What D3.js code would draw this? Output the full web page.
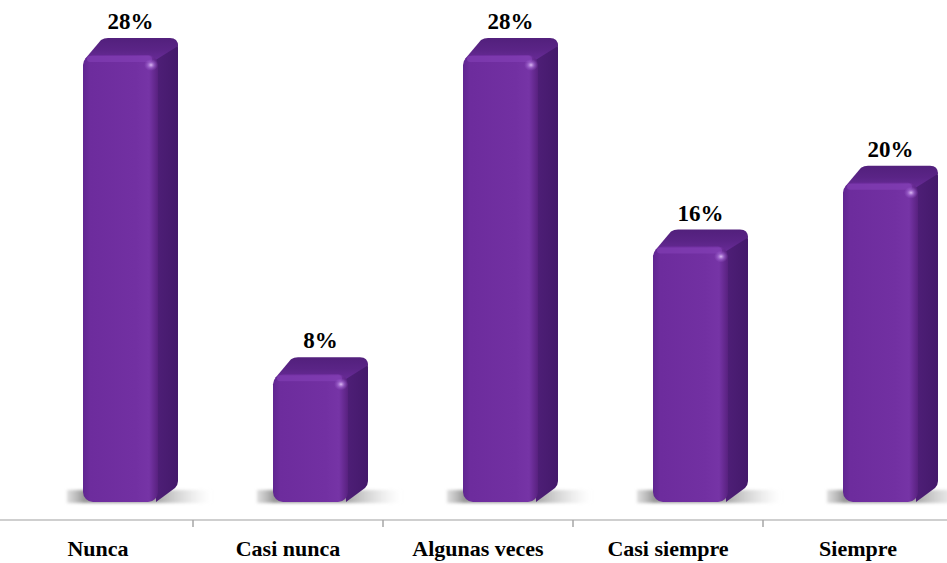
<!DOCTYPE html>
<html><head><meta charset="utf-8">
<script src="https://cdn.jsdelivr.net/npm/d3@7"></script>
<style>html,body{margin:0;padding:0;background:#fff;}svg{display:block;}</style>
</head><body>
<svg id="c" width="947" height="563"></svg>
<script>
const categories = ["Nunca", "Casi nunca", "Algunas veces", "Casi siempre", "Siempre"];
const values = [28, 8, 28, 16, 20];
const valueLabels = ["28%", "8%", "28%", "16%", "20%"];

const svg = d3.select("#c");
const W = 947, H = 563;
const x = d3.scaleBand().domain(categories).range([3, 953]).padding(0);
const y = d3.scaleLinear().domain([0, 28]).range([502, 55]);
const faceOff = 80, faceW = 75, dx = 20, dy = 17;
const serif = "'Liberation Serif', 'Times New Roman', serif";

const defs = svg.append("defs");
const fg = defs.append("linearGradient").attr("id", "front").attr("x1", 0).attr("x2", 1).attr("y1", 0).attr("y2", 0);
fg.append("stop").attr("offset", 0).attr("stop-color", "#5f2590");
fg.append("stop").attr("offset", 0.1).attr("stop-color", "#6d2c9d");
fg.append("stop").attr("offset", 0.7).attr("stop-color", "#7230a2");
fg.append("stop").attr("offset", 0.88).attr("stop-color", "#7634a6");
fg.append("stop").attr("offset", 1).attr("stop-color", "#58217f");
const sg = defs.append("linearGradient").attr("id", "side").attr("x1", 0).attr("x2", 1).attr("y1", 0).attr("y2", 0);
sg.append("stop").attr("offset", 0).attr("stop-color", "#4f1f78");
sg.append("stop").attr("offset", 1).attr("stop-color", "#44196b");
const tg = defs.append("linearGradient").attr("id", "top").attr("x1", 0).attr("x2", 0).attr("y1", 1).attr("y2", 0);
tg.append("stop").attr("offset", 0).attr("stop-color", "#6a2c99");
tg.append("stop").attr("offset", 0.5).attr("stop-color", "#5a2486");
tg.append("stop").attr("offset", 1).attr("stop-color", "#52207c");
const hg = defs.append("radialGradient").attr("id", "hl");
hg.append("stop").attr("offset", 0).attr("stop-color", "#e8ccff").attr("stop-opacity", 0.9);
hg.append("stop").attr("offset", 0.5).attr("stop-color", "#b27ae0").attr("stop-opacity", 0.5);
hg.append("stop").attr("offset", 1).attr("stop-color", "#a060d0").attr("stop-opacity", 0);
const shg = defs.append("linearGradient").attr("id", "shad").attr("x1", 0).attr("x2", 1).attr("y1", 0).attr("y2", 0);
shg.append("stop").attr("offset", 0).attr("stop-color", "#c8c8c8").attr("stop-opacity", 0.6);
shg.append("stop").attr("offset", 0.12).attr("stop-color", "#8a8a8a").attr("stop-opacity", 0.9);
shg.append("stop").attr("offset", 0.6).attr("stop-color", "#8a8a8a").attr("stop-opacity", 0.8);
shg.append("stop").attr("offset", 0.8).attr("stop-color", "#bdbdbd").attr("stop-opacity", 0.5);
shg.append("stop").attr("offset", 1).attr("stop-color", "#e0e0e0").attr("stop-opacity", 0);
defs.append("filter").attr("id", "blur").attr("x", -0.2).attr("y", -1).attr("width", 1.4).attr("height", 3)
  .append("feGaussianBlur").attr("stdDeviation", 1.6);

// axis
const axisY = 520;
svg.append("line").attr("x1", 0).attr("x2", W).attr("y1", axisY).attr("y2", axisY)
  .attr("stroke", "#bfbfbf").attr("stroke-width", 1.5);
categories.forEach((c, i) => {
  if (i === 0) return;
  const tx = Math.round(x(c));
  svg.append("line").attr("x1", tx).attr("x2", tx).attr("y1", axisY).attr("y2", axisY + 7)
    .attr("stroke", "#a6a6a6").attr("stroke-width", 1.5);
});

const g = svg.append("g");
categories.forEach((c, i) => {
  const x0 = x(c) + faceOff, x1 = x0 + faceW;
  const top = y(values[i]), bot = y(0);
  const bg = g.append("g");
  // floor shadow
  bg.append("rect").attr("x", x0 - 16).attr("y", bot - 12).attr("width", faceW + dx + 50).attr("height", 13)
    .attr("fill", "url(#shad)").attr("filter", "url(#blur)");
  // side
  bg.append("path")
    .attr("d", `M${x1 - 4},${top + 2} L${x1 + dx - 2},${top - dy + 4} Q${x1 + dx},${top - dy + 6} ${x1 + dx},${top - dy + 10} L${x1 + dx},${bot - dy - 4} Q${x1 + dx},${bot - dy} ${x1 + dx - 3},${bot - dy + 3} L${x1 - 2},${bot} Z`)
    .attr("fill", "url(#side)");
  // top
  bg.append("path")
    .attr("d", `M${x0 + 2},${top + 4} L${x0 + dx - 2},${top - dy + 2} Q${x0 + dx + 1},${top - dy} ${x0 + dx + 5},${top - dy} L${x1 + dx - 8},${top - dy} Q${x1 + dx},${top - dy} ${x1 + dx},${top - dy + 8} L${x1 - 4},${top + 6} Z`)
    .attr("fill", "url(#top)");
  // front
  bg.append("rect").attr("x", x0).attr("y", top).attr("width", faceW).attr("height", bot - top)
    .attr("rx", 10).attr("ry", 10).attr("fill", "url(#front)");
  // top edge sheen
  bg.append("rect").attr("x", x0 + 4).attr("y", top + 1).attr("width", faceW - 10).attr("height", 6)
    .attr("rx", 3).attr("fill", "#8c48be").attr("opacity", 0.45);
  bg.append("ellipse").attr("cx", x1 - 7).attr("cy", top + 10).attr("rx", 7).attr("ry", 6)
    .attr("fill", "url(#hl)");
  // value label
  g.append("text").attr("x", x0 + (faceW + dx) / 2).attr("y", top - 26)
    .attr("text-anchor", "middle").attr("font-family", serif)
    .attr("font-weight", "bold").attr("font-size", 23).attr("fill", "#000").text(valueLabels[i]);
  // category label
  svg.append("text").attr("x", x(c) + x.bandwidth() / 2).attr("y", 556)
    .attr("text-anchor", "middle").attr("font-family", serif)
    .attr("font-weight", "bold").attr("font-size", 22).attr("fill", "#000").text(c);
});
</script>
</body></html>
